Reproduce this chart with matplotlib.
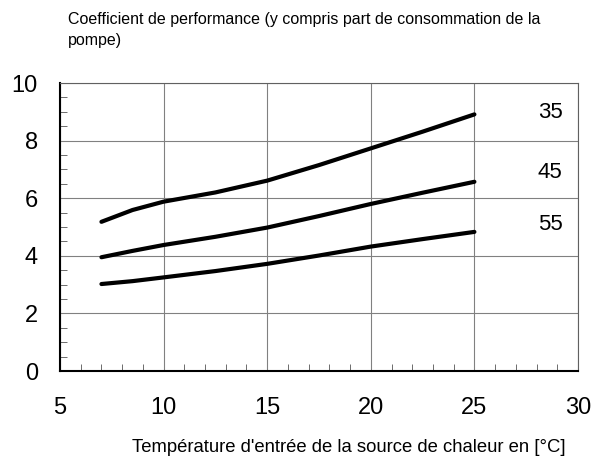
import matplotlib
matplotlib.use("Agg")
import matplotlib.pyplot as plt
from matplotlib.ticker import MultipleLocator

plt.rcParams['font.family'] = ['Liberation Sans', 'DejaVu Sans']

temps = [7, 8.5, 10, 12.5, 15, 17.5, 20, 22.5, 25]
cop_35 = [5.18, 5.59, 5.88, 6.2, 6.61, 7.15, 7.73, 8.31, 8.91]
cop_45 = [3.95, 4.17, 4.375, 4.66, 4.98, 5.38, 5.80, 6.19, 6.57]
cop_55 = [3.02, 3.12, 3.25, 3.47, 3.72, 4.01, 4.32, 4.58, 4.83]
series_labels = ["35", "45", "55"]
label_y = [8.96, 6.88, 5.07]

fig = plt.figure(figsize=(5.93, 4.59), dpi=100)
ax = fig.add_axes([60/593, 1 - 371/459, (578-60)/593, (371-83)/459])

for ys in [cop_35, cop_45, cop_55]:
    ax.plot(temps, ys, color='black', lw=3, solid_capstyle='round')

for lab, ly in zip(series_labels, label_y):
    ax.text(28.65, ly, lab, fontsize=16, ha='center', va='center')

ax.set_xlim(5, 30)
ax.set_ylim(0, 10)
ax.xaxis.set_major_locator(MultipleLocator(5))
ax.xaxis.set_minor_locator(MultipleLocator(1))
ax.yaxis.set_major_locator(MultipleLocator(2))
ax.yaxis.set_minor_locator(MultipleLocator(0.5))
ax.grid(True, which='major', color='#808080', lw=0.8)
ax.tick_params(which='both', direction='in', labelsize=17)
ax.tick_params(which='minor', length=5, color='#555555')
ax.tick_params(axis='x', which='major', length=0, pad=19)
ax.tick_params(axis='y', which='major', length=0, pad=16)
for side in ['top', 'right']:
    ax.spines[side].set_color('#606060')
    ax.spines[side].set_linewidth(0.8)
for side in ['left', 'bottom']:
    ax.spines[side].set_linewidth(1.5)

fig.text(349/593, 1 - 447/459, "Température d'entrée de la source de chaleur en [°C]",
         fontsize=13.3, ha='center', va='center')
fig.text(68/593, 1 - 30/459, "Coefficient de performance (y compris part de consommation de la\npompe)",
         fontsize=11.5, ha='left', va='center', linespacing=1.45)

fig.savefig("out.png", dpi=100)
